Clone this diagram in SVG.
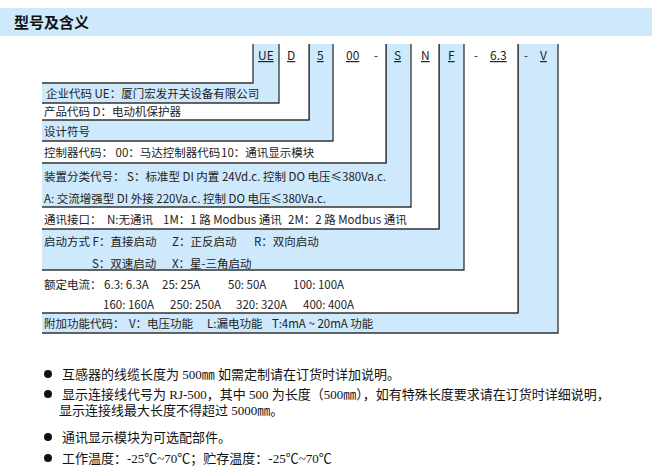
<svg xmlns="http://www.w3.org/2000/svg" width="652" height="475" viewBox="0 0 652 475">
<style>
.b{fill:#cde9fb}.w{fill:#fff}
.s{fill:none;stroke:#333;stroke-width:1.3}
text{font-family:"Noto Sans CJK SC","Noto Sans",sans-serif;font-size:11.5px;fill:#222}
.h{text-decoration:underline;font-size:12px}
.n{font-family:"Liberation Serif","Noto Sans CJK SC",serif;font-size:13px;fill:#111}
</style>
<rect x="0" y="8" width="652" height="28" fill="#cde9fb"/>
<text x="14" y="28" style="font-size:15px;font-weight:bold;fill:#111">型号及含义</text>
<g id="connectors">
<g id="V"><polygon class="b" points="518,44 558,44 558,333 42,333 42,313 518,313"/><polyline class="s" points="518,44 518,313"/><polyline class="s" points="558,44 558,333 42,333"/></g>
<g id="A63"><polygon class="w" points="464,44 518,44 518,313 42,313 42,270 464,270"/><polyline class="s" points="518,44 518,313 42,313"/></g>
<g id="F"><polygon class="b" points="439,44 464,44 464,270 42,270 42,229 439,229"/><polyline class="s" points="439,44 439,229"/><polyline class="s" points="464,44 464,270 42,270"/></g>
<g id="N"><polygon class="w" points="411,44 439,44 439,229 42,229 42,207 411,207"/><polyline class="s" points="439,44 439,229 42,229"/></g>
<g id="S"><polygon class="b" points="386,44 411,44 411,207 42,207 42,163 386,163"/><polyline class="s" points="386,44 386,163"/><polyline class="s" points="411,44 411,207 42,207"/></g>
<g id="C00"><polygon class="w" points="333,44 386,44 386,163 42,163 42,141 333,141"/><polyline class="s" points="386,44 386,163 42,163"/></g>
<g id="K5"><polygon class="b" points="309,44 333,44 333,141 42,141 42,120 309,120"/><polyline class="s" points="309,44 309,120"/><polyline class="s" points="333,44 333,141 42,141"/></g>
<g id="D"><polygon class="w" points="279,44 309,44 309,120 42,120 42,103 279,103"/><polyline class="s" points="309,44 309,120 42,120"/></g>
<g id="UE"><polygon class="b" points="253,44 279,44 279,103 42,103 42,83 253,83"/><polyline class="s" points="253,44 253,83 42,83"/><polyline class="s" points="279,44 279,103 42,103"/></g>
</g>
<g id="header">
<text x="258" y="60" class="h">UE</text><text x="287" y="60" class="h">D</text><text x="317" y="60" class="h">5</text>
<text x="346" y="60" class="h">00</text><text x="374" y="60">-</text><text x="394" y="60" class="h">S</text>
<text x="421" y="60" class="h">N</text><text x="448" y="60" class="h">F</text><text x="474" y="60">-</text>
<text x="490" y="60" class="h">6.3</text><text x="524" y="60">-</text><text x="540" y="60" class="h">V</text>
</g>
<g id="labels">
<text x="46" y="98">企业代码 UE：厦门宏发开关设备有限公司</text>
<text x="44" y="116">产品代码 D：电动机保护器</text>
<text x="44" y="136">设计符号</text>
<text x="44" y="157">控制器代码：  00：马达控制器代码</text><text x="221" y="157">10：通讯显示模块</text>
<text x="44" y="181">装置分类代号：  S：标准型  DI 内置 24Vd.c. 控制 DO 电压≤380Va.c.</text>
<text x="44" y="203">A: 交流增强型  DI 外接 220Va.c. 控制 DO 电压≤380Va.c.</text>
<text x="44" y="224">通讯接口：</text><text x="107" y="224">N:无通讯</text><text x="163" y="224">1M：1 路 Modbus 通讯</text><text x="288" y="224">2M：2 路 Modbus 通讯</text>
<text x="44" y="246">启动方式  F：直接启动</text><text x="172" y="246">Z：正反启动</text><text x="254" y="246">R：双向启动</text>
<text x="92" y="268">S：双速启动</text><text x="172" y="268">X：星-三角启动</text>
<text x="44" y="289">额定电流：  6.3: 6.3A</text><text x="162" y="289">25: 25A</text><text x="228" y="289">50: 50A</text><text x="293" y="289">100: 100A</text>
<text x="103" y="309">160: 160A</text><text x="170" y="309">250: 250A</text><text x="236" y="309">320: 320A</text><text x="303" y="309">400: 400A</text>
<text x="44" y="328">附加功能代码：</text><text x="129" y="328">V：电压功能</text><text x="207" y="328">L:漏电功能</text><text x="272" y="328">T:4mA ~ 20mA 功能</text>
</g>
<g id="notes">
<circle cx="48" cy="374" r="4" fill="#111"/><text x="62" y="379" class="n">互感器的线缆长度为 500㎜ 如需定制请在订货时详加说明。</text>
<circle cx="48" cy="394" r="4" fill="#111"/><text x="62" y="399" class="n">显示连接线代号为 RJ-500，其中 500 为长度（500㎜），如有特殊长度要求请在订货时详细说明，</text>
<text x="59" y="415" class="n">显示连接线最大长度不得超过 5000㎜。</text>
<circle cx="48" cy="437" r="4" fill="#111"/><text x="62" y="442" class="n">通讯显示模块为可选配部件。</text>
<circle cx="48" cy="458" r="4" fill="#111"/><text x="62" y="463" class="n">工作温度：-25℃~70℃；贮存温度：-25℃~70℃</text>
</g>
</svg>
